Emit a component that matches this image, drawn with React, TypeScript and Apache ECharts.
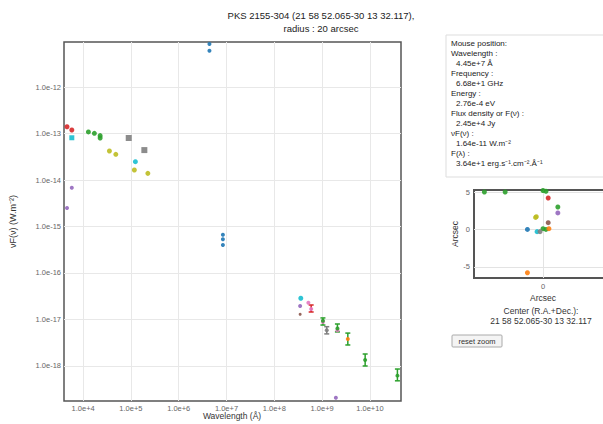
import React, { useEffect, useRef } from "react";
import * as echarts from "echarts";

// ---- Main SED data (wavelength Å, νF(ν) W.m^-2) ----
const redPts = [[4.6e3, 1.4e-13], [5.8e3, 1.19e-13]];
const cyanSquarePts = [[5.8e3, 8.1e-14]];
const cyanPts = [[1.24e5, 2.48e-14], [3.58e8, 2.86e-17]];
const greenPts = [[1.29e4, 1.08e-13], [1.72e4, 1.01e-13], [2.27e4, 9.0e-14], [2.27e4, 8.0e-14]];
const graySquarePts = [[9.0e4, 8.0e-14], [1.91e5, 4.4e-14]];
const olivePts = [[3.55e4, 4.2e-14], [4.83e4, 3.57e-14], [1.18e5, 1.64e-14], [2.26e5, 1.39e-14]];
const purplePts = [[5.8e3, 6.8e-15], [4.6e3, 2.5e-15], [3.47e8, 1.95e-17], [1.94e9, 2.08e-19]];
const bluePts = [[4.39e6, 8.4e-12], [4.39e6, 6.0e-12], [8.4e6, 6.67e-16], [8.4e6, 5.3e-16], [8.4e6, 4.0e-16]];
const pinkPts = [[5.16e8, 2.3e-17], [5.9e8, 1.68e-17], [1.04e9, 8.8e-18], [2.09e9, 5.9e-18]];
const brownPts = [[3.47e8, 1.29e-17]];
const grayPts = [[1.25e9, 5.9e-18]];
const orangePts = [[3.45e9, 3.8e-18]];
const greenErrPts = [[1.04e9, 9.4e-18], [2.09e9, 6.4e-18], [7.95e9, 1.35e-18], [3.76e10, 6.2e-19]];

// error bars: [x, low, high]
const redBars = [[5.9e8, 1.45e-17, 2.05e-17]];
const greenBars = [[1.04e9, 7.6e-18, 1.08e-17], [2.09e9, 5.4e-18, 8.0e-18], [3.45e9, 2.83e-18, 5.1e-18], [7.95e9, 1.0e-18, 1.81e-18], [3.76e10, 4.8e-19, 8.6e-19]];
const grayBars = [[1.25e9, 4.9e-18, 7.0e-18]];

const xTicks = [1e4, 1e5, 1e6, 1e7, 1e8, 1e9, 1e10];
const yTickExps = [-18, -17, -16, -15, -14, -13, -12];
const yMin = 1.766e-19;
const yMax = 9.29e-12;

// ---- Sky positions (arcsec offsets) ----
const skyGreen = [[-7.9, 5], [-5.1, 5], [0, 5.2], [0.4, 5.1], [2.0, 3.0], [0, 0.1], [0.4, 0]];
const skyOrange = [[-0.4, 5.3], [0.8, 0.1], [-2.1, -5.8]];
const skyRed = [[0.7, 4.2]];
const skyPurple = [[2.0, 2.2]];
const skyOlive = [[-0.9, 1.7], [-1.0, 1.6]];
const skyBrown = [[0.7, 0.9]];
const skyBlue = [[-2.1, 0]];
const skyCyan = [[-0.8, -0.3]];
const skyGray = [[-0.4, -0.3]];
const skyXTicks = [0];
const skyYTicks = [-5, 0, 5];

const infoLines = [
  ["Mouse position:", 0],
  ["Wavelength :", 0],
  ["4.45e+7 Å", 1],
  ["Frequency :", 0],
  ["6.68e+1 GHz", 1],
  ["Energy :", 0],
  ["2.76e-4 eV", 1],
  ["Flux density or F(ν) :", 0],
  ["2.45e+4 Jy", 1],
  ["νF(ν) :", 0],
  ["1.64e-11 W.m⁻²", 1],
  ["F(λ) :", 0],
  ["3.64e+1 erg.s⁻¹.cm⁻².Å⁻¹", 1],
];

const FONT = "'Liberation Sans', Arial, sans-serif";

const C = {
  blue: "#1f77b4",
  orange: "#ff7f0e",
  green: "#2ca02c",
  red: "#d62728",
  purple: "#9467bd",
  brown: "#8c564b",
  pink: "#e377c2",
  gray: "#7f7f7f",
  olive: "#bcbd22",
  cyan: "#17becf",
};

const lg = (v: number) => Math.log10(v);

function scatter(data: number[][], color: string, symbol = "circle", size = 5, grid = 0) {
  return {
    type: "scatter",
    xAxisIndex: grid,
    yAxisIndex: grid,
    data: grid === 0 ? data.map(([x, y]) => [x, lg(y)]) : data,
    symbol,
    symbolSize: size,
    itemStyle: { color, opacity: 0.9 },
    silent: true,
  };
}

function errorBars(data: number[][], color: string) {
  return {
    type: "custom",
    xAxisIndex: 0,
    yAxisIndex: 0,
    data: data.map(([x, lo, hi]) => [x, lg(lo), lg(hi)]),
    silent: true,
    renderItem: (params: any, api: any) => {
      const x = api.value(0);
      const lo = api.coord([x, api.value(1)]);
      const hi = api.coord([x, api.value(2)]);
      const w = 2.5;
      const style = { stroke: color, lineWidth: 1.5 };
      return {
        type: "group",
        children: [
          { type: "line", shape: { x1: lo[0], y1: lo[1], x2: hi[0], y2: hi[1] }, style },
          { type: "line", shape: { x1: lo[0] - w, y1: lo[1], x2: lo[0] + w, y2: lo[1] }, style },
          { type: "line", shape: { x1: hi[0] - w, y1: hi[1], x2: hi[0] + w, y2: hi[1] }, style },
        ],
      };
    },
  };
}

export default function App() {
  const ref = useRef<HTMLDivElement>(null);
  useEffect(() => {
    const chart = echarts.init(ref.current!, undefined, { renderer: "svg" });
    const labelStyle = { fontFamily: FONT, fontSize: 7.5, color: "#666" };
    const infoGraphics: any[] = infoLines.map(([t, indent], i) => ({
      type: "text",
      x: indent ? 456 : 451,
      y: 43 + i * 10,
      style: { text: t as string, fontFamily: FONT, fontSize: 8, fill: "#222", textVerticalAlign: "middle" },
    }));
    chart.setOption({
      animation: false,
      textStyle: { fontFamily: FONT },
      grid: [
        { left: 64, top: 42, right: 202, bottom: 23, outerBoundsMode: "none", containLabel: false, show: true, borderColor: "#555", borderWidth: 1.5, backgroundColor: "#fff" },
        { left: 474, top: 190, right: -9, bottom: 146, outerBoundsMode: "none", containLabel: false, show: true, borderColor: "#555", borderWidth: 2 },
      ],
      xAxis: [
        {
          type: "log",
          gridIndex: 0,
          min: 3981,
          max: 4.47e10,
          axisLine: { show: false },
          axisTick: { show: false, customValues: xTicks },
          axisLabel: { ...labelStyle, margin: 3, customValues: xTicks, formatter: (v: number) => "1.0e+" + Math.round(Math.log10(v)) },
          splitLine: { show: true, lineStyle: { color: "#e8e8e8", width: 1 } },
        },
        {
          type: "value",
          gridIndex: 1,
          min: -9.3,
          max: 9.3,
          name: "Arcsec",
          nameLocation: "middle",
          nameGap: 15,
          nameTextStyle: { fontFamily: FONT, fontSize: 8.5, color: "#333" },
          axisLine: { show: false },
          axisTick: { show: false, customValues: skyXTicks },
          axisLabel: { ...labelStyle, margin: 4, customValues: skyXTicks },
          splitLine: { show: true, lineStyle: { color: "#e3e3e3" } },
        },
      ],
      yAxis: [
        {
          type: "value",
          gridIndex: 0,
          min: lg(yMin),
          max: lg(yMax),
          name: "νF(ν) (W.m⁻²)",
          nameLocation: "middle",
          nameGap: 47,
          nameTextStyle: { fontFamily: FONT, fontSize: 9, color: "#333" },
          axisLine: { show: false },
          axisTick: { show: false, customValues: yTickExps },
          axisLabel: { ...labelStyle, margin: 3, customValues: yTickExps, formatter: (v: number) => "1.0e" + Math.round(v) },
          splitLine: { show: true, lineStyle: { color: "#e8e8e8", width: 1 } },
        },
        {
          type: "value",
          gridIndex: 1,
          min: -6.5,
          max: 5.27,
          name: "Arcsec",
          nameLocation: "middle",
          nameGap: 14,
          nameTextStyle: { fontFamily: FONT, fontSize: 8.5, color: "#333" },
          axisLine: { show: false },
          axisTick: { show: false, customValues: skyYTicks },
          axisLabel: { ...labelStyle, margin: 4, customValues: skyYTicks },
          splitLine: { show: true, lineStyle: { color: "#e3e3e3" } },
        },
      ],
      series: [
        errorBars(redBars, C.red),
        errorBars(greenBars, C.green),
        errorBars(grayBars, C.gray),
        scatter(redPts, C.red),
        scatter(cyanSquarePts, C.cyan, "rect", 5),
        scatter(cyanPts, C.cyan),
        scatter(greenPts, C.green),
        scatter(graySquarePts, C.gray, "rect", 6),
        scatter(olivePts, C.olive),
        scatter(purplePts, C.purple, "circle", 4),
        scatter(bluePts, C.blue, "circle", 4),
        scatter(pinkPts, C.pink, "circle", 4),
        scatter(brownPts, C.brown, "circle", 3),
        scatter(grayPts, C.gray, "circle", 4),
        scatter(orangePts, C.orange, "circle", 4),
        scatter(greenErrPts, C.green, "circle", 4),
        scatter(skyGreen, C.green, "circle", 5, 1),
        scatter(skyOrange, C.orange, "circle", 5, 1),
        scatter(skyRed, C.red, "circle", 5, 1),
        scatter(skyPurple, C.purple, "circle", 5, 1),
        scatter(skyOlive, C.olive, "circle", 5, 1),
        scatter(skyBrown, C.brown, "circle", 5, 1),
        scatter(skyBlue, C.blue, "circle", 5, 1),
        scatter(skyCyan, C.cyan, "circle", 5, 1),
        scatter(skyGray, C.gray, "circle", 5, 1),
      ],
      graphic: [
        {
          type: "text",
          x: 321,
          y: 9,
          style: {
            text: "PKS 2155-304 (21 58 52.065-30 13 32.117),\nradius : 20 arcsec",
            fontFamily: FONT,
            fontSize: 9.5,
            lineHeight: 13,
            fill: "#222",
            textAlign: "center",
          },
        },
        {
          type: "text",
          x: 232,
          y: 416,
          style: {
            text: "Wavelength (Å)",
            fontFamily: FONT,
            fontSize: 8.5,
            fill: "#333",
            textAlign: "center",
            textVerticalAlign: "middle",
          },
        },
        {
          type: "rect",
          shape: { x: 446, y: 35, width: 170, height: 142 },
          style: { fill: "#fff", stroke: "#ddd", lineWidth: 1 },
          silent: true,
        },
        ...infoGraphics,
        {
          type: "text",
          x: 541,
          y: 306,
          style: {
            text: "Center (R.A.+Dec.):\n21 58 52.065-30 13 32.117",
            fontFamily: FONT,
            fontSize: 8.5,
            lineHeight: 10,
            fill: "#333",
            textAlign: "center",
          },
        },
        {
          type: "rect",
          shape: { x: 452, y: 335, width: 50, height: 12, r: 1 },
          style: { fill: "#f4f4f4", stroke: "#aaa", lineWidth: 1 },
        },
        {
          type: "text",
          x: 477,
          y: 341,
          style: { text: "reset zoom", fontFamily: FONT, fontSize: 7.5, fill: "#333", textAlign: "center", textVerticalAlign: "middle" },
        },
      ],
    });
    return () => chart.dispose();
  }, []);
  return <div ref={ref} style={{ position: "fixed", left: 0, top: 0, width: 603, height: 424, background: "#fff" }} />;
}
